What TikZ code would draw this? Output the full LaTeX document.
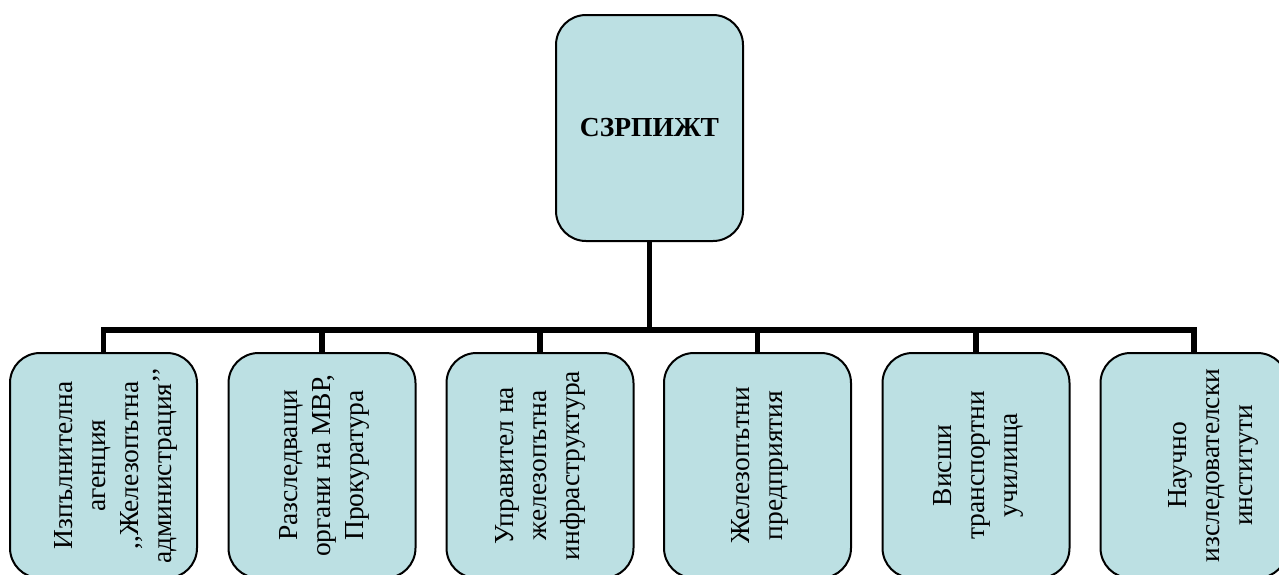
\documentclass[tikz,border=0pt]{standalone}
\usepackage{fontspec}
\setmainfont{Liberation Serif}
\definecolor{boxfill}{RGB}{188,224,227}
\begin{document}
\begin{tikzpicture}[x=1pt,y=-1pt,
  orgbox/.style={draw=black,line width=2pt,fill=boxfill,rounded corners=30pt,
    minimum width=187pt,minimum height=225pt,inner sep=0pt},
  topbox/.style={draw=black,line width=2pt,fill=boxfill,rounded corners=30pt,
    minimum width=187pt,minimum height=226pt,inner sep=0pt,
    font=\fontsize{27.5}{33}\selectfont\bfseries},
  vtext/.style={rotate=90,align=center,inner sep=0pt,
    font=\fontsize{27.5}{33}\selectfont},
  conn/.style={draw=black,line width=5.5pt,line join=miter}]
\useasboundingbox (0,0) rectangle (1279,574);
\node[topbox] (top) at (649.5,128) {СЗРПИЖТ};
\coordinate (bar) at (0,330);
\node[orgbox] (b1) at (103.5,465.5) {};
\node[orgbox] (b2) at (322,465.5) {};
\node[orgbox] (b3) at (540,465.5) {};
\node[orgbox] (b4) at (757.5,465.5) {};
\node[orgbox] (b5) at (976,465.5) {};
\node[orgbox] (b6) at (1194,465.5) {};
\node[vtext] (t1) at ([xshift=12pt]b1.center) {Изпълнителна\\агенция\\,{},Железопътна\\администрация’{}’};
\node[vtext] (t2) at ([xshift=2pt]b2.center) {Разследващи\\органи на МВР,\\Прокуратура};
\node[vtext] (t3) at (b3.center) {Управител на\\железопътна\\инфраструктура};
\node[vtext] (t4) at ([xshift=2pt]b4.center) {Железопътни\\предприятия};
\node[vtext] (t5) at ([xshift=2pt]b5.center) {Висши\\транспортни\\училища};
\node[vtext] (t6) at ([xshift=19pt]b6.center) {Научно\\изследователски\\институти};
\draw[conn] (top.south) -- (top.south |- bar);
\draw[conn] (b1.north) -- (b1.north |- bar) -- (b6.north |- bar) -- (b6.north);
\draw[conn] (b2.north) -- (b2.north |- bar);
\draw[conn] (b3.north) -- (b3.north |- bar);
\draw[conn] (b4.north) -- (b4.north |- bar);
\draw[conn] (b5.north) -- (b5.north |- bar);
\end{tikzpicture}
\end{document}
